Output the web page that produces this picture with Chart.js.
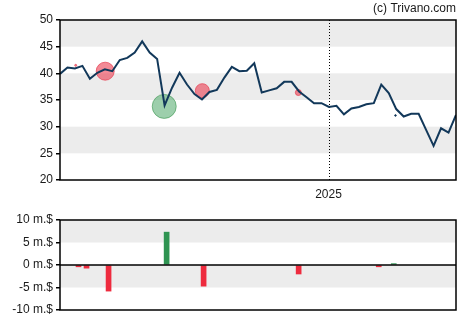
<!DOCTYPE html>
<html>
<head>
<meta charset="utf-8">
<script src="https://cdn.jsdelivr.net/npm/chart.js@4.4.1/dist/chart.umd.min.js"></script>
<style>
  html, body { margin: 0; padding: 0; background: #fff; }
  #wrap { position: relative; width: 470px; height: 325px; }
  #priceBox { position: absolute; left: 0; top: 0; width: 470px; height: 200px; }
  #flowBox { position: absolute; left: 0; top: 200px; width: 470px; height: 125px; }
</style>
</head>
<body>
<div id="wrap">
  <div id="priceBox"><canvas id="priceChart" width="470" height="200"></canvas></div>
  <div id="flowBox"><canvas id="flowChart" width="470" height="125"></canvas></div>
</div>
<script>
// weekly closing prices
const prices = [
  39.9, 41.1, 40.9, 41.4, 39.0, 40.1, 40.75, 40.4, 42.5, 42.9,
  43.9, 46.0, 43.9, 42.7, 34.0, 37.3, 40.1, 37.9, 36.1, 35.1,
  36.5, 36.9, 39.2, 41.2, 40.4, 40.5, 41.9, 36.4, 36.8, 37.2,
  38.4, 38.4, 36.6, 35.5, 34.4, 34.4, 33.7, 33.9, 32.3, 33.4,
  33.7, 34.2, 34.4, 37.9, 36.3, 33.3, 31.9, 32.4, 32.4, 29.4,
  26.4, 29.7, 28.9, 32.2
];

// insider trades: week position, price level, marker radius, buy/sell
const tradeWeeks  = [2.1, 6.05, 13.95, 19.05, 31.9, 44.9];
const tradePrices = [41.5, 40.4, 33.8, 36.75, 36.4, 32.1];
const tradeSizes  = [1, 9, 12, 7, 3, 0.8];
const tradeSides  = ['sell', 'sell', 'buy', 'sell', 'sell', 'none'];

// net insider flow in millions of dollars
const flowWeeks  = [2.48, 3.55, 6.5, 14.27, 19.22, 31.94, 42.66, 44.67];
const flowValues = [-0.4, -0.7, -5.8, 7.3, -4.7, -2.0, -0.4, 0.3];

const yearTick = { value: 35.94, label: '2025' };
const priceBands = [[45, 50], [35, 40], [25, 30]];
const flowBands = [[5, 10], [-5, 0]];

const FONT = { family: '"Liberation Sans", Arial, sans-serif', size: 12 };
const TEXT = '#1a1a1a';

function framePlugin(bands, extra) {
  return {
    id: 'frame',
    beforeDatasetsDraw(chart) {
      const { ctx, chartArea: a, scales: { y } } = chart;
      ctx.save();
      ctx.fillStyle = '#ececec';
      bands.forEach(([lo, hi]) => {
        const y1 = y.getPixelForValue(hi), y2 = y.getPixelForValue(lo);
        ctx.fillRect(a.left, y1, a.right - a.left, y2 - y1);
      });
      if (extra && extra.before) extra.before(chart);
      ctx.restore();
    },
    afterDraw(chart) {
      const { ctx, chartArea: a } = chart;
      ctx.save();
      ctx.strokeStyle = '#000';
      ctx.lineWidth = 1.5;
      ctx.strokeRect(a.left, a.top, a.right - a.left, a.bottom - a.top);
      if (extra && extra.after) extra.after(chart);
      ctx.restore();
    },
  };
}

const yAxisBase = {
  afterFit(scale) { scale.width = 60; },
  border: { display: false },
  grid: { drawOnChartArea: false, drawTicks: true, tickLength: 4, color: '#000', lineWidth: 1.5 },
  ticks: { stepSize: 5, padding: 3, color: TEXT, font: FONT },
};

const priceChart = new Chart(document.getElementById('priceChart'), {
  type: 'line',
  data: {
    datasets: [
      {
        type: 'line',
        data: prices.map((p, i) => ({ x: i, y: p })),
        borderColor: '#12385a',
        borderWidth: 2,
        pointRadius: 0,
        tension: 0,
        order: 0,
      },
      {
        type: 'bubble',
        data: tradeWeeks.map((w, i) => ({ x: w, y: tradePrices[i], r: tradeSizes[i] })),
        backgroundColor: tradeSides.map(s => s === 'buy' ? 'rgba(60,160,90,0.5)' : s === 'sell' ? 'rgba(235,60,80,0.6)' : '#12385a'),
        borderColor: tradeSides.map(s => s === 'buy' ? 'rgba(60,150,80,0.6)' : s === 'sell' ? 'rgba(230,60,80,0.7)' : '#12385a'),
        borderWidth: 1,
        order: 1,
      },
    ],
  },
  options: {
    responsive: false,
    animation: false,
    layout: { padding: { top: 20, right: 14, left: 0, bottom: 0 } },
    plugins: { legend: { display: false }, tooltip: { enabled: false } },
    scales: {
      x: {
        type: 'linear',
        min: 0,
        max: prices.length - 1,
        afterFit(scale) { scale.height = 20; },
        afterBuildTicks(scale) { scale.ticks = [{ value: yearTick.value }]; },
        border: { display: false },
        grid: { display: false, drawTicks: false, tickLength: 0 },
        ticks: { padding: 7, color: TEXT, font: FONT, maxRotation: 0, callback: () => yearTick.label },
      },
      y: { ...yAxisBase, min: 20, max: 50 },
    },
  },
  plugins: [framePlugin(priceBands, {
    before(chart) {
      const { ctx, chartArea: a, scales: { x } } = chart;
      const px = Math.round(x.getPixelForValue(yearTick.value)) + 0.5;
      ctx.strokeStyle = '#000';
      ctx.lineWidth = 1;
      ctx.setLineDash([1, 2]);
      ctx.beginPath();
      ctx.moveTo(px, a.top);
      ctx.lineTo(px, a.bottom);
      ctx.stroke();
      ctx.setLineDash([]);
    },
    after(chart) {
      const { ctx, chartArea: a } = chart;
      ctx.font = `${FONT.size}px ${FONT.family}`;
      ctx.fillStyle = TEXT;
      ctx.textAlign = 'right';
      ctx.textBaseline = 'middle';
      ctx.fillText('(c) Trivano.com', a.right, 9);
    },
  })],
});

const flowChart = new Chart(document.getElementById('flowChart'), {
  type: 'bar',
  data: {
    datasets: [{
      data: flowWeeks.map((w, i) => ({ x: w, y: flowValues[i] })),
      backgroundColor: flowValues.map(v => v >= 0 ? '#2f9452' : '#ee2b3e'),
      barThickness: 5,
    }],
  },
  options: {
    responsive: false,
    animation: false,
    layout: { padding: { top: 20, right: 14, left: 0, bottom: 15 } },
    plugins: { legend: { display: false }, tooltip: { enabled: false } },
    scales: {
      x: { type: 'linear', offset: false, min: 0, max: prices.length - 1, display: false },
      y: {
        ...yAxisBase,
        min: -10,
        max: 10,
        ticks: { ...yAxisBase.ticks, callback: v => v + ' m.$' },
      },
    },
  },
  plugins: [framePlugin(flowBands, {
    after(chart) {
      const { ctx, chartArea: a, scales: { y } } = chart;
      const py = y.getPixelForValue(0);
      ctx.beginPath();
      ctx.moveTo(a.left, py);
      ctx.lineTo(a.right, py);
      ctx.stroke();
    },
  })],
});
</script>
</body>
</html>
